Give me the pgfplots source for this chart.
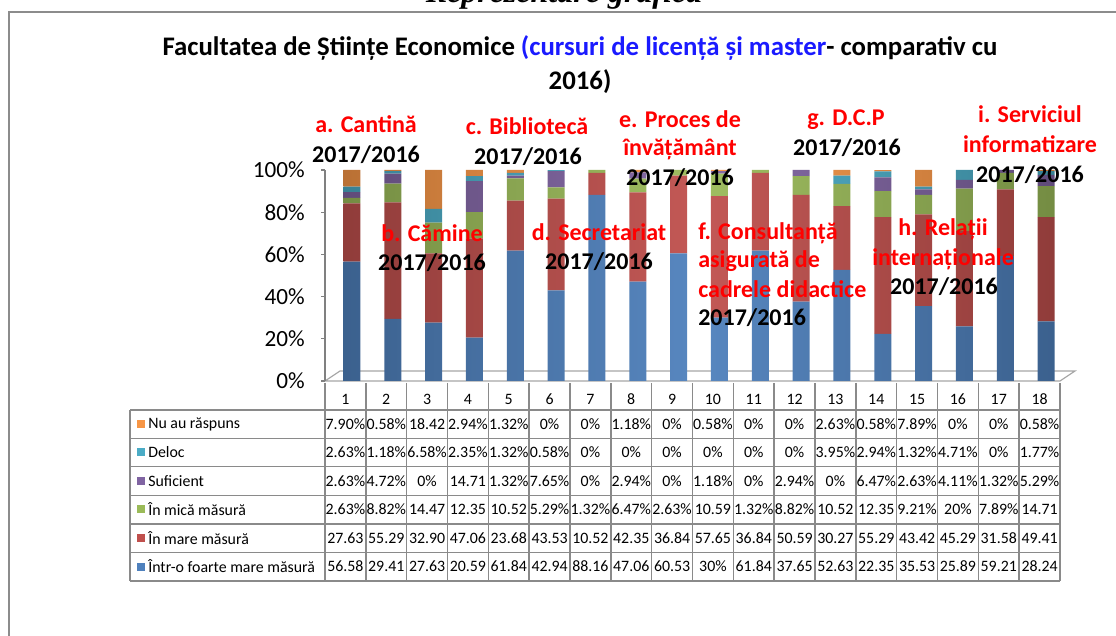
\documentclass[border=0pt]{standalone}
\usepackage{pgfplots}
\pgfplotsset{compat=1.18}
\usepackage{pgfplotstable}
\usepackage{fontspec}
\setmainfont{Carlito}
\newfontfamily\timesf{Liberation Serif}
\definecolor{cBlue}{HTML}{4F81BD}
\definecolor{cRed}{HTML}{C0504D}
\definecolor{cGreen}{HTML}{9BBB59}
\definecolor{cPurple}{HTML}{8064A2}
\definecolor{cTeal}{HTML}{4BACC6}
\definecolor{cOrange}{HTML}{F79646}
\definecolor{frameGray}{HTML}{8C8C8C}
\definecolor{gridGray}{HTML}{8A8A8A}
\definecolor{titleBlue}{HTML}{1A1AFF}

\pgfplotstableread{
x foarte mare mica suf deloc nu
1  56.58 27.63 2.63  2.63  2.63 7.90
2  29.41 55.29 8.82  4.72  1.18 0.58
3  27.63 32.90 14.47 0     6.58 18.42
4  20.59 47.06 12.35 14.71 2.35 2.94
5  61.84 23.68 10.52 1.32  1.32 1.32
6  42.94 43.53 5.29  7.65  0.58 0
7  88.16 10.52 1.32  0     0    0
8  47.06 42.35 6.47  2.94  0    1.18
9  60.53 36.84 2.63  0     0    0
10 30.00 57.65 10.59 1.18  0    0.58
11 61.84 36.84 1.32  0     0    0
12 37.65 50.59 8.82  2.94  0    0
13 52.63 30.27 10.52 0     3.95 2.63
14 22.35 55.29 12.35 6.47  2.94 0.58
15 35.53 43.42 9.21  2.63  1.32 7.89
16 25.89 45.29 20.00 4.11  4.71 0
17 59.21 31.58 7.89  1.32  0    0
18 28.24 49.41 14.71 5.29  1.77 0.58
}\data

\tikzset{cyl/.style={draw=none, left color=#1!75!black, right color=#1!75!black, middle color=#1!95!white}}

\begin{document}
\begin{tikzpicture}[x=0.75pt,y=0.75pt]
\useasboundingbox (0,0) rectangle (1116,635);
\clip (0,0) rectangle (1116,635);

% outer frame (left and top edges visible)
\draw[frameGray, line width=1.1pt] (9,-5) -- (9,623) -- (1125,623);

% cut-off heading above the frame
\node[anchor=base, inner sep=0pt] at (564,632) {\timesf\bfseries\itshape\fontsize{24}{28}\selectfont Reprezentare grafică};

% title
\node[anchor=base, inner sep=0pt] at (580,579) {\bfseries\fontsize{20.1}{24}\selectfont Facultatea de Științe Economice \textcolor{titleBlue}{(cursuri de licență și master}- comparativ cu};
\node[anchor=base, inner sep=0pt] at (580,545.5) {\bfseries\fontsize{20.1}{24}\selectfont 2016)};

% 3D floor
\draw[gray!70, line width=0.9pt] (325,254) -- (1060,254) -- (1075,264) -- (340,264) -- cycle;

\begin{axis}[
  at={(243.75pt,190.5pt)}, anchor=south west,
  scale only axis, width=551.25pt, height=158.25pt,
  xmin=0.5, xmax=18.5, ymin=0, ymax=100,
  ybar stacked, bar width=12.75pt, bar shift=4.9pt,
  axis x line=none, axis y line*=left,
  y axis line style={gray, line width=0.9pt, -},
  ytick={0,20,40,60,80,100},
  ytick style={gray, line width=0.9pt},
  major tick length=3pt, tick align=outside,
  yticklabel={\pgfmathprintnumber{\tick}\%},
  yticklabel style={font=\fontsize{17.4}{20}\selectfont, inner sep=0pt, xshift=-12pt},
  /pgf/number format/assume math mode=true,
  clip=false,
]
\addplot[cyl=cBlue]   table[x=x, y=foarte] {\data};
\addplot[cyl=cRed]    table[x=x, y=mare]   {\data};
\addplot[cyl=cGreen]  table[x=x, y=mica]   {\data};
\addplot[cyl=cPurple] table[x=x, y=suf]    {\data};
\addplot[cyl=cTeal]   table[x=x, y=deloc]  {\data};
\addplot[cyl=cOrange] table[x=x, y=nu]     {\data};
\end{axis}

% data table
\begin{scope}[gridGray, line width=1.1pt]
  \foreach \yy in {225,196.7,168.3,139.7,111,82.3,54} \draw (130,\yy) -- (1060,\yy);
  \draw (130,225) -- (130,54);
  \foreach \k in {0,...,18} \draw ({325+\k*40.833},252) -- ({325+\k*40.833},54);
\end{scope}

\begin{scope}[font=\fontsize{11.9}{14}\selectfont]
  \foreach \i in {1,...,18} \node[inner sep=0pt] at ({325+(\i-0.5)*40.833},236) {\i};
  % row labels
  \foreach \c/\t/\yy in {cOrange/Nu au răspuns/211, cTeal/Deloc/182.5, cPurple/Suficient/154, cGreen/În mică măsură/125.5, cRed/În mare măsură/97, cBlue/Într-o foarte mare măsură/68.5}{
    \fill[\c] (137,\yy-4) rectangle (145,\yy+4);
    \node[anchor=west, inner sep=0pt] at (148,\yy) {\t};
  }
  \foreach \v [count=\i] in {7.90\%,0.58\%,18.42,2.94\%,1.32\%,0\%,0\%,1.18\%,0\%,0.58\%,0\%,0\%,2.63\%,0.58\%,7.89\%,0\%,0\%,0.58\%}
    \node[inner sep=0pt] at ({325+(\i-0.5)*40.833},211) {\v};
  \foreach \v [count=\i] in {2.63\%,1.18\%,6.58\%,2.35\%,1.32\%,0.58\%,0\%,0\%,0\%,0\%,0\%,0\%,3.95\%,2.94\%,1.32\%,4.71\%,0\%,1.77\%}
    \node[inner sep=0pt] at ({325+(\i-0.5)*40.833},182.5) {\v};
  \foreach \v [count=\i] in {2.63\%,4.72\%,0\%,14.71,1.32\%,7.65\%,0\%,2.94\%,0\%,1.18\%,0\%,2.94\%,0\%,6.47\%,2.63\%,4.11\%,1.32\%,5.29\%}
    \node[inner sep=0pt] at ({325+(\i-0.5)*40.833},154) {\v};
  \foreach \v [count=\i] in {2.63\%,8.82\%,14.47,12.35,10.52,5.29\%,1.32\%,6.47\%,2.63\%,10.59,1.32\%,8.82\%,10.52,12.35,9.21\%,20\%,7.89\%,14.71}
    \node[inner sep=0pt] at ({325+(\i-0.5)*40.833},125.5) {\v};
  \foreach \v [count=\i] in {27.63,55.29,32.90,47.06,23.68,43.53,10.52,42.35,36.84,57.65,36.84,50.59,30.27,55.29,43.42,45.29,31.58,49.41}
    \node[inner sep=0pt] at ({325+(\i-0.5)*40.833},97) {\v};
  \foreach \v [count=\i] in {56.58,29.41,27.63,20.59,61.84,42.94,88.16,47.06,60.53,30\%,61.84,37.65,52.63,22.35,35.53,25.89,59.21,28.24}
    \node[inner sep=0pt] at ({325+(\i-0.5)*40.833},68.5) {\v};
\end{scope}

% annotations
\begin{scope}[font=\bfseries\fontsize{18}{21}\selectfont, inner sep=0pt]
  \node[anchor=base, red] at (366,502.5) {a. Cantină};
  \node[anchor=base] at (366,472.5) {2017/2016};
  \node[anchor=base, red] at (432,393) {b. Cămine};
  \node[anchor=base] at (432,364.5) {2017/2016};
  \node[anchor=base, red] at (527,500.5) {c. Bibliotecă};
  \node[anchor=base] at (528,470.5) {2017/2016};
  \node[anchor=base, red] at (599,394.5) {d. Secretariat};
  \node[anchor=base] at (599,365.5) {2017/2016};
  \node[anchor=base, red] at (680,507.5) {e. Proces de};
  \node[anchor=base, red] at (680,479.5) {învățământ};
  \node[anchor=base] at (680,449.5) {2017/2016};
  \node[anchor=base west, red] at (698,395.5) {f. Consultanță};
  \node[anchor=base west, red] at (698,367.5) {asigurată de};
  \node[anchor=base west, red] at (698,337.5) {cadrele didactice};
  \node[anchor=base west] at (698,309.5) {2017/2016};
  \node[anchor=base, red] at (846,509.5) {g. D.C.P};
  \node[anchor=base] at (847,479.5) {2017/2016};
  \node[anchor=base, red] at (943,399.5) {h. Relații};
  \node[anchor=base, red] at (943,369.5) {internaționale};
  \node[anchor=base] at (944,340.5) {2017/2016};
  \node[anchor=base, red] at (1030,512.5) {i. Serviciul};
  \node[anchor=base, red] at (1030,482.5) {informatizare};
  \node[anchor=base] at (1030,452.5) {2017/2016};
\end{scope}
\end{tikzpicture}
\end{document}
